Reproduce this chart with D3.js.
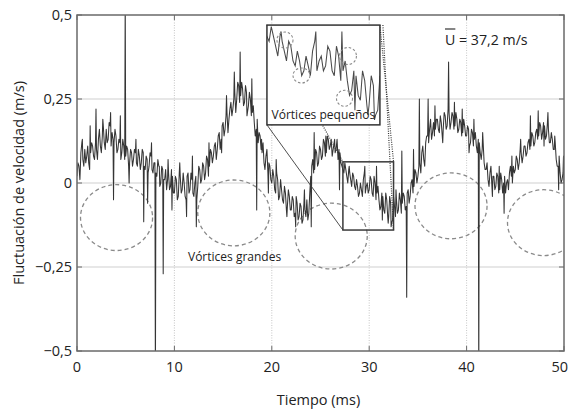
<!DOCTYPE html>
<html>
<head>
<meta charset="utf-8">
<script src="https://cdn.jsdelivr.net/npm/d3@7"></script>
<style>
  body { margin: 0; background: #fff; }
  text { font-family: "Open Sans", sans-serif; fill: #222; }
</style>
</head>
<body>
<svg id="chart" width="569" height="410"></svg>
<script>
// ---- DATA ----
const SAMPLE_MS = 0.2;   // velocity: t = 0, 0.2, ... 50 ms ; velocityMid: t = 0.1, 0.3, ... 49.9 ms
const velocity = [
   0.02, 0.05, 0.09, 0.07, 0.10,   0.08, 0.06, 0.09, 0.11, 0.07,
   0.10, 0.13, 0.11, 0.14, 0.12,   0.16, 0.13, 0.17, 0.15, 0.12,
   0.14, 0.10, 0.12, 0.09, 0.11,   0.08, 0.10, 0.06, 0.09, 0.07,
   0.09, 0.05, 0.08, 0.06, 0.09,   0.04, 0.07, 0.05, 0.08, 0.03,
   0.06, 0.02, 0.05, 0.00, 0.04,   0.01,-0.02, 0.03,-0.01, 0.02,
  -0.03, 0.01,-0.04, 0.02,-0.02,   0.00,-0.05, 0.03,-0.02, 0.01,
  -0.04, 0.02,-0.01, 0.04, 0.01,   0.05, 0.03, 0.07, 0.05, 0.09,
   0.08, 0.12, 0.10, 0.15, 0.13,   0.18, 0.16, 0.21, 0.19, 0.24,
   0.22, 0.27, 0.25, 0.29, 0.26,   0.28, 0.24, 0.27, 0.23, 0.25,
   0.21, 0.18, 0.16, 0.12, 0.14,   0.09, 0.06, 0.08, 0.03, 0.05,
   0.00, 0.02,-0.03, 0.01,-0.04,  -0.02,-0.06,-0.03,-0.07,-0.04,
  -0.08,-0.05,-0.09,-0.06,-0.10,  -0.07,-0.11,-0.08,-0.05,-0.09,
   0.02, 0.07, 0.04, 0.09, 0.06,   0.10, 0.08, 0.12, 0.09, 0.13,
   0.11, 0.08, 0.12, 0.10, 0.07,   0.09, 0.05, 0.03, 0.04, 0.00,
   0.03,-0.01, 0.02,-0.02,-0.01,  -0.03,-0.02, 0.01,-0.03, 0.00,
  -0.02, 0.01,-0.04, 0.00,-0.03,  -0.05,-0.07,-0.04,-0.09,-0.05,
  -0.10,-0.06,-0.11,-0.07,-0.05,  -0.08,-0.05,-0.06,-0.04,-0.07,
  -0.02,-0.04, 0.01,-0.01, 0.03,   0.02, 0.06, 0.09, 0.07, 0.12,
   0.14, 0.16, 0.13, 0.18, 0.16,   0.19, 0.15, 0.18, 0.16, 0.20,
   0.17, 0.21, 0.18, 0.20, 0.17,   0.19, 0.16, 0.18, 0.15, 0.17,
   0.14, 0.16, 0.12, 0.15, 0.13,   0.11, 0.13, 0.09, 0.10, 0.06,
   0.04, 0.01, 0.03,-0.01, 0.02,  -0.01, 0.02,-0.02, 0.01, 0.00,
  -0.03, 0.01, 0.03, 0.02, 0.05,   0.04, 0.07, 0.06, 0.09, 0.08,
   0.11, 0.09, 0.13, 0.11, 0.14,   0.12, 0.16, 0.14, 0.17, 0.15,
   0.17, 0.14, 0.16, 0.12, 0.13,   0.10, 0.07, 0.05, 0.03, 0.01,
   0.00
];
const velocityMid = [
   0.06, 0.01, 0.12, 0.05, 0.06,   0.11, 0.04, 0.12, 0.08, 0.12,
   0.07, 0.16, 0.09, 0.17, 0.10,   0.12, 0.18, 0.11, 0.13, 0.16,
   0.09, 0.13, 0.07, 0.13, 0.07,   0.11, 0.05, 0.10, 0.05, 0.10,
   0.06, 0.10, 0.04, 0.10, 0.05,   0.08, 0.03, 0.09, 0.04, 0.06,
   0.03, 0.07,-0.01, 0.05, 0.01,   0.04, 0.01,-0.02, 0.04,-0.03,
   0.02,-0.05, 0.03,-0.03, 0.03,  -0.04, 0.02,-0.03, 0.03,-0.03,
   0.00,-0.05, 0.05, 0.00, 0.06,   0.01, 0.08, 0.02, 0.10, 0.06,
   0.11, 0.07, 0.14, 0.10, 0.17,   0.14, 0.20, 0.15, 0.22, 0.20,
   0.25, 0.21, 0.30, 0.24, 0.30,   0.23, 0.29, 0.21, 0.27, 0.20,
   0.23, 0.14, 0.19, 0.15, 0.10,   0.12, 0.04, 0.10, 0.06, 0.01,
   0.04,-0.02, 0.03,-0.05, 0.01,  -0.05,-0.01,-0.08,-0.02,-0.08,
  -0.04,-0.10,-0.04,-0.11,-0.06,  -0.12,-0.06,-0.10,-0.11,-0.03,
   0.05, 0.03, 0.10, 0.05, 0.11,   0.07, 0.13, 0.08, 0.14, 0.10,
   0.13, 0.10, 0.09, 0.13, 0.10,   0.06, 0.04, 0.06, 0.02, 0.04,
   0.01, 0.03,-0.01, 0.01,-0.04,   0.00,-0.04, 0.03,-0.01,-0.03,
   0.02,-0.03, 0.02,-0.05,-0.01,  -0.08,-0.03,-0.08,-0.03,-0.10,
  -0.04,-0.12,-0.04,-0.10,-0.09,  -0.03,-0.09,-0.03,-0.08,-0.03,
  -0.06, 0.00,-0.03, 0.04, 0.00,   0.05, 0.03, 0.11, 0.05, 0.14,
   0.12, 0.19, 0.15, 0.14, 0.19,   0.16, 0.20, 0.14, 0.21, 0.16,
   0.22, 0.16, 0.21, 0.16, 0.21,   0.15, 0.19, 0.14, 0.19, 0.14,
   0.17, 0.11, 0.16, 0.11, 0.15,   0.09, 0.12, 0.07, 0.12, 0.04,
   0.06,-0.01, 0.05, 0.02,-0.02,   0.03,-0.03, 0.03,-0.03, 0.02,
   0.00,-0.02, 0.05, 0.00, 0.03,   0.08, 0.04, 0.10, 0.06, 0.11,
   0.08, 0.12, 0.10, 0.15, 0.11,   0.15, 0.13, 0.18, 0.13, 0.18,
   0.13, 0.18, 0.12, 0.15, 0.10,   0.12, 0.05, 0.08, 0.00, 0.03
];

// single-sample spikes [time ms, velocity m/s]
const spikes = [
  [0.55, 0.13], [1.35, 0.17], [1.95, 0.22], [2.65, 0.19], [3.45, 0.21], [3.75, -0.05],
  [4.45, 0.20], [4.95, 0.56], [5.35, 0.00], [6.05, 0.13], [6.85, -0.115], [7.25, -0.06],
  [7.65, 0.12], [8.05, -0.6], [8.45, 0.05], [8.85, -0.27], [9.35, 0.07], [9.75, -0.08],
  [10.55, 0.06], [11.25, -0.10], [11.85, 0.08], [12.25, -0.13], [13.55, 0.12], [14.85, 0.09],
  [15.35, 0.26], [16.15, 0.33], [16.75, 0.39], [17.45, 0.20], [17.95, 0.31], [18.45, -0.08],
  [18.95, 0.13], [19.65, -0.03], [20.45, 0.07], [21.55, -0.10], [22.45, -0.13], [23.35, -0.02],
  [24.05, -0.13], [24.35, 0.15], [25.55, 0.14], [26.45, 0.13], [26.95, -0.02], [27.95, 0.05],
  [29.55, 0.05], [30.75, 0.05], [31.35, -0.11], [31.95, -0.12], [32.25, -0.13], [32.75, -0.02],
  [33.35, 0.095], [33.85, -0.34], [34.55, 0.10], [35.15, 0.25], [36.05, 0.25], [36.75, 0.23],
  [37.55, 0.12], [38.15, 0.36], [38.75, 0.24], [39.55, 0.22], [40.25, 0.09], [40.75, 0.19],
  [41.25, -0.6], [41.65, 0.15], [42.65, -0.04], [43.35, 0.05], [43.85, -0.09], [44.65, 0.08],
  [45.55, 0.13], [46.55, 0.20], [47.35, 0.215], [47.95, 0.11], [48.35, 0.21], [49.05, 0.14],
  [49.45, -0.02], [49.95, 0.08]
];

const xTicks = [0, 10, 20, 30, 40, 50];
const yTicks = [-0.5, -0.25, 0, 0.25, 0.5];
const xLabel = "Tiempo (ms)";
const yLabel = "Fluctuación de velocidad (m/s)";
const bigLabel = "Vórtices grandes";
const smallLabel = "Vórtices pequeños";
const speedValue = " = 37,2 m/s";

// ---- ANNOTATIONS (in data units) ----
const bigVortices = [   // [t, v] centres
  [4.06, -0.103], [16.1, -0.089], [26.1, -0.158], [38.4, -0.068], [47.9, -0.118]
];
const BIG_RX = 3.7, BIG_RY = 0.098;
const zoomWindow = { t0: 27.3, t1: 32.5, v0: -0.14, v1: 0.063 };
const insetWindow = { t0: 19.5, t1: 31.1, v0: 0.173, v1: 0.47 };
const smallVortices = [ // [t, v, rx(ms), ry(m/s)] inside zoom window
  [28.13, 0.0325, 0.37, 0.0163], [28.89, -0.0396, 0.39, 0.0152],
  [31.03, 0.0, 0.39, 0.0173], [30.87, -0.086, 0.37, 0.0163]
];

// ---- LAYOUT ----
const W = 569;
const M = { left: 77, right: 564, top: 15, bottom: 351 };
const FS = 14.5;
const svg = d3.select("#chart");

const x = d3.scaleLinear().domain([0, 50]).range([M.left, M.right]);
const y = d3.scaleLinear().domain([-0.5, 0.5]).range([M.bottom, M.top]);

const es = d3.formatLocale({ decimal: ",", thousands: ".", grouping: [3], currency: ["", "€"], minus: "\u2212" });
const fmt = es.format("~g");

// merge regular samples, mid samples and spikes
const series = velocity.map((v, i) => [+(i * SAMPLE_MS).toFixed(2), v])
  .concat(velocityMid.map((v, i) => [+(i * SAMPLE_MS + SAMPLE_MS / 2).toFixed(2), v]))
  .concat(spikes)
  .sort((a, b) => a[0] - b[0]);

const defs = svg.append("defs");
defs.append("clipPath").attr("id", "plotClip")
  .append("rect").attr("x", M.left).attr("y", M.top)
  .attr("width", M.right - M.left).attr("height", M.bottom - M.top);

// grid
const grid = svg.append("g");
grid.selectAll("line.gx").data(xTicks.slice(1, -1)).enter().append("line")
  .attr("x1", d => x(d)).attr("x2", d => x(d))
  .attr("y1", M.top).attr("y2", M.bottom)
  .attr("stroke", "#b8b8b8").attr("stroke-width", 0.8).attr("stroke-dasharray", "1,1.5");
grid.selectAll("line.gy").data(yTicks.slice(1, -1)).enter().append("line")
  .attr("x1", M.left).attr("x2", M.right)
  .attr("y1", d => y(d)).attr("y2", d => y(d))
  .attr("stroke", "#cfcfcf").attr("stroke-width", 1);

// big vortex circles
svg.append("g").attr("clip-path", "url(#plotClip)")
  .selectAll("ellipse").data(bigVortices).enter().append("ellipse")
  .attr("cx", d => x(d[0])).attr("cy", d => y(d[1]))
  .attr("rx", x(BIG_RX) - x(0)).attr("ry", y(0) - y(BIG_RY))
  .attr("fill", "none").attr("stroke", "#8a8a8a").attr("stroke-width", 1.3)
  .attr("stroke-dasharray", "4,3");

// signal
const line = d3.line().x(d => x(d[0])).y(d => y(d[1]));
svg.append("path").datum(series)
  .attr("clip-path", "url(#plotClip)")
  .attr("d", line)
  .attr("fill", "none").attr("stroke", "#353535").attr("stroke-width", 1.05)
  .attr("stroke-linejoin", "round");

// zoom box
const zx0 = x(zoomWindow.t0), zx1 = x(zoomWindow.t1);
const zy0 = y(zoomWindow.v1), zy1 = y(zoomWindow.v0);
svg.append("rect")
  .attr("x", zx0).attr("y", zy0).attr("width", zx1 - zx0).attr("height", zy1 - zy0)
  .attr("fill", "none").attr("stroke", "#3a3a3a").attr("stroke-width", 1.5);

// inset frame coords
const ix0 = x(insetWindow.t0), ix1 = x(insetWindow.t1);
const iy0 = y(insetWindow.v1), iy1 = y(insetWindow.v0);

// connectors (drawn under the inset)
const connectors = [
  { a: [ix0, iy0], b: [zx0, zy0], dash: "1,1.3" },
  { a: [ix0, iy1], b: [zx0, zy1], dash: null },
  { a: [ix1, iy0], b: [zx1, zy0], dash: "1,1.3" },
  { a: [ix1 + 3, iy0], b: [zx1, zy1], dash: "1,1.3" }
];
svg.append("g").selectAll("line").data(connectors).enter().append("line")
  .attr("x1", d => d.a[0]).attr("y1", d => d.a[1])
  .attr("x2", d => d.b[0]).attr("y2", d => d.b[1])
  .attr("stroke", "#3a3a3a").attr("stroke-width", d => d.dash ? 1.2 : 0.9)
  .attr("stroke-dasharray", d => d.dash);

// inset
const ins = svg.append("g");
defs.append("clipPath").attr("id", "insetClip")
  .append("rect").attr("x", ix0).attr("y", iy0).attr("width", ix1 - ix0).attr("height", iy1 - iy0);
ins.append("rect").attr("x", ix0).attr("y", iy0).attr("width", ix1 - ix0).attr("height", iy1 - iy0)
  .attr("fill", "#fff");
const xi = d3.scaleLinear().domain([zoomWindow.t0, zoomWindow.t1]).range([ix0, ix1]);
const yi = d3.scaleLinear().domain([zoomWindow.v0, zoomWindow.v1]).range([iy1, iy0]);
ins.append("path").datum(series.filter(d => d[0] >= zoomWindow.t0 - 0.3 && d[0] <= zoomWindow.t1 + 0.3))
  .attr("clip-path", "url(#insetClip)")
  .attr("d", d3.line().x(d => xi(d[0])).y(d => yi(d[1])))
  .attr("fill", "none").attr("stroke", "#4a4a4a").attr("stroke-width", 1.05);
ins.selectAll("ellipse").data(smallVortices).enter().append("ellipse")
  .attr("cx", d => xi(d[0])).attr("cy", d => yi(d[1]))
  .attr("rx", d => xi(d[2]) - xi(0)).attr("ry", d => yi(0) - yi(d[3]))
  .attr("fill", "none").attr("stroke", "#8a8a8a").attr("stroke-width", 1.1)
  .attr("stroke-dasharray", "2.5,2");
ins.append("text").attr("x", (ix0 + ix1) / 2).attr("y", iy1 - 6)
  .attr("text-anchor", "middle").attr("font-size", 12).text(smallLabel);
ins.append("rect").attr("x", ix0).attr("y", iy0).attr("width", ix1 - ix0).attr("height", iy1 - iy0)
  .attr("fill", "none").attr("stroke", "#333").attr("stroke-width", 1.5);

// frame + inward ticks
svg.append("rect").attr("x", M.left).attr("y", M.top)
  .attr("width", M.right - M.left).attr("height", M.bottom - M.top)
  .attr("fill", "none").attr("stroke", "#6a6a6a").attr("stroke-width", 1.5);
const tk = svg.append("g").attr("stroke", "#6a6a6a").attr("stroke-width", 1);
xTicks.forEach(t => {
  tk.append("line").attr("x1", x(t)).attr("x2", x(t)).attr("y1", M.bottom).attr("y2", M.bottom - 5);
  tk.append("line").attr("x1", x(t)).attr("x2", x(t)).attr("y1", M.top).attr("y2", M.top + 5);
});
yTicks.forEach(v => {
  tk.append("line").attr("x1", M.left).attr("x2", M.left + 5).attr("y1", y(v)).attr("y2", y(v));
  tk.append("line").attr("x1", M.right).attr("x2", M.right - 5).attr("y1", y(v)).attr("y2", y(v));
});

// tick labels
svg.append("g").selectAll("text").data(xTicks).enter().append("text")
  .attr("x", d => x(d)).attr("y", M.bottom + 21)
  .attr("text-anchor", "middle").attr("font-size", FS).text(d => fmt(d))
  .each(function () {
    const b = this.getBBox();
    if (b.x + b.width > W - 1) this.setAttribute("x", W - 1 - b.width / 2);
  });
svg.append("g").selectAll("text").data(yTicks).enter().append("text")
  .attr("x", M.left - 5).attr("y", d => y(d) + 5)
  .attr("text-anchor", "end").attr("font-size", FS).text(d => fmt(d));

// axis titles
svg.append("text").attr("x", (M.left + M.right) / 2 - 2).attr("y", 405)
  .attr("text-anchor", "middle").attr("font-size", FS).text(xLabel);
svg.append("text").attr("transform", `translate(24,${(M.top + M.bottom) / 2}) rotate(-90)`)
  .attr("text-anchor", "middle").attr("font-size", FS).text(yLabel);

// annotations
svg.append("text").attr("x", 188).attr("y", 261).attr("font-size", 12).text(bigLabel);
const sp = svg.append("text").attr("x", 445).attr("y", 45).attr("font-size", 14.2);
sp.append("tspan").text("U");
sp.append("tspan").text(speedValue);
const uW = sp.node().getSubStringLength(0, 1);
svg.append("line").attr("x1", 445).attr("x2", 445 + uW).attr("y1", 29).attr("y2", 29)
  .attr("stroke", "#222").attr("stroke-width", 1.1);
</script>
</body>
</html>
